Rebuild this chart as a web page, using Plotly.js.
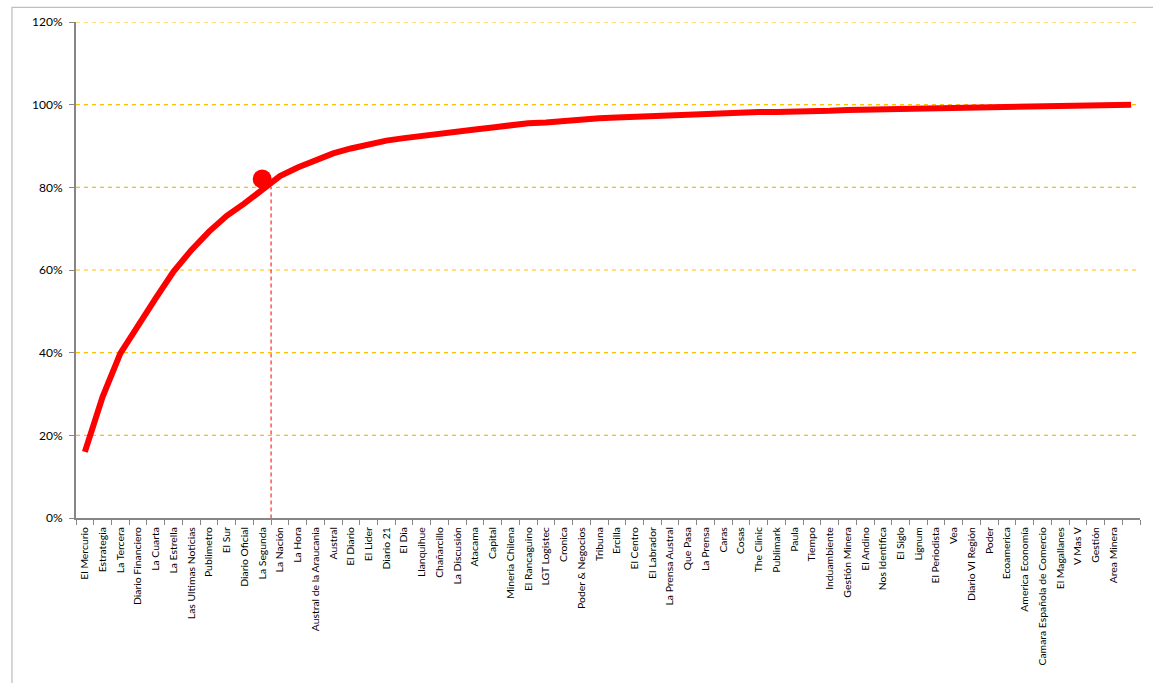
<!DOCTYPE html>
<html>
<head>
<meta charset="utf-8">
<script src="https://cdn.plot.ly/plotly-3.0.1.min.js"></script>
<style>
html, body { margin: 0; padding: 0; background: #ffffff; }
#chart { width: 1153px; height: 683px; }
</style>
</head>
<body>
<div id="chart"></div>
<script>
// Media outlets (60th slot has no label in the original)
const categories = [
  "El Mercurio", "Estrategia", "La Tercera", "Diario Financiero", "La Cuarta",
  "La Estrella", "Las Ultimas Noticias", "Publimetro", "El Sur", "Diario Oficial",
  "La Segunda", "La Nación", "La Hora", "Austral de la Araucania", "Austral",
  "El Diario", "El Lider", "Diario 21", "El Dia", "Llanquihue",
  "Chañarcillo", "La Discusión", "Atacama", "Capital", "Mineria Chilena",
  "El Rancaguino", "LGT Logistec", "Cronica", "Poder & Negocios", "Tribuna",
  "Ercilla", "El Centro", "El Labrador", "La Prensa Austral", "Que Pasa",
  "La Prensa", "Caras", "Cosas", "The Clinic", "Publimark",
  "Paula", "Tiempo", "Induambiente", "Gestión Minera", "El Andino",
  "Nos Identifica", "El Siglo", "Lignum", "El Periodista", "Vea",
  "Diario VI Región", "Poder", "Ecoamerica", "America Economía", "Camara Española de Comercio",
  "El Magallanes", "V Mas V", "Gestión", "Area Minera", " "
];

// Cumulative share (Pareto curve)
const cumulative = [
  0.160, 0.293, 0.398, 0.467, 0.532, 0.596, 0.648, 0.693, 0.731, 0.761,
  0.794, 0.827, 0.848, 0.866, 0.882, 0.894, 0.904, 0.913, 0.919, 0.925,
  0.931, 0.937, 0.940, 0.945, 0.951, 0.955, 0.957, 0.961, 0.965, 0.967,
  0.969, 0.971, 0.973, 0.975, 0.975, 0.977, 0.979, 0.980, 0.982, 0.982,
  0.982, 0.985, 0.985, 0.987, 0.988, 0.989, 0.990, 0.991, 0.992, 0.993,
  0.994, 0.995, 0.995, 0.996, 0.996, 0.997, 0.998, 0.999, 0.999, 1.000
];

// 80% cut-off highlight
const cutoffCategory = ["La Segunda"];
const cutoffValue = [0.82];
const cutoffLevel = 0.80;

const yTicks = [0, 0.2, 0.4, 0.6, 0.8, 1.0, 1.2];

const font = "Lato, 'Open Sans', sans-serif";

const traces = [
  {
    type: "scatter",
    mode: "lines",
    x: categories,
    y: cumulative,
    line: { color: "#FF0000", width: 6, shape: "linear" },
    hoverinfo: "x+y",
    showlegend: false
  },
  {
    type: "scatter",
    mode: "markers",
    x: cutoffCategory,
    y: cutoffValue,
    marker: { color: "#FF0000", size: 19, symbol: "circle" },
    showlegend: false,
    cliponaxis: false
  }
];

const cutIndex = categories.indexOf(cutoffCategory[0]);

// dashed gridlines drawn as shapes on the y scale
const gridShapes = yTicks.filter(v => v > 0).map(v => ({
  type: "line",
  xref: "paper",
  yref: "y",
  x0: 0,
  x1: 1,
  y0: v,
  y1: v,
  line: { color: "#FFC000", width: 1.2, dash: "4px,4px" },
  layer: "below"
}));

const layout = {
  width: 1153,
  height: 683,
  margin: { l: 75.7, r: 13.3, t: 22, b: 165, pad: 0 },
  paper_bgcolor: "#ffffff",
  plot_bgcolor: "#ffffff",
  font: { family: font, color: "#000000", size: 11 },
  showlegend: false,
  xaxis: {
    type: "category",
    categoryorder: "array",
    categoryarray: categories,
    range: [-0.5, categories.length - 0.5],
    showgrid: false,
    zeroline: false,
    showline: true,
    linecolor: "#868686",
    linewidth: 2,
    ticks: "outside",
    tickson: "boundaries",
    ticklen: 5,
    tickwidth: 1,
    tickcolor: "#868686",
    tickangle: -90,
    ticklabelstandoff: 3,
    tickfont: { family: font, size: 10.4, color: "#000000" },
    automargin: false,
    fixedrange: true
  },
  yaxis: {
    range: [0, 1.2],
    tickvals: yTicks,
    tickformat: ".0%",
    showgrid: false,
    zeroline: false,
    showline: true,
    linecolor: "#868686",
    linewidth: 2,
    ticks: "outside",
    ticklen: 5,
    tickwidth: 1,
    tickcolor: "#868686",
    ticklabelstandoff: 4,
    tickfont: { family: font, size: 12, color: "#000000" },
    automargin: false,
    fixedrange: true
  },
  shapes: gridShapes.concat([
    {
      type: "line",
      xref: "x",
      yref: "y",
      x0: cutIndex + 0.5,
      x1: cutIndex + 0.5,
      y0: -0.018,
      y1: cutoffLevel,
      line: { color: "#FF0000", width: 1, dash: "4px,3px" },
      layer: "above"
    },
    {
      type: "rect",
      xref: "paper",
      yref: "paper",
      x0: -0.0602,
      x1: 1.05,
      y0: -0.4,
      y1: 1.0296,
      line: { color: "#BFBFBF", width: 1.3 },
      fillcolor: "rgba(0,0,0,0)",
      layer: "below"
    }
  ])
};

Plotly.newPlot("chart", traces, layout, { displayModeBar: false, staticPlot: true });
</script>
</body>
</html>
